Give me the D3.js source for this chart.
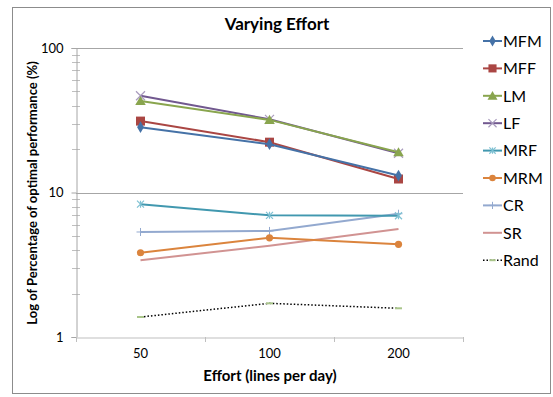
<!DOCTYPE html>
<html>
<head>
<meta charset="utf-8">
<title>Varying Effort</title>
<script src="https://d3js.org/d3.v7.min.js"></script>
<style>
  body { margin: 0; background: #fff; font-family: Lato, "Open Sans", sans-serif; }
  svg text { fill: #000; }
</style>
</head>
<body>
<div class="chart"></div>
<script>
// data
const efforts = ["50", "100", "200"];
const seriesNames = ["MFM", "MFF", "LM", "LF", "MRF", "MRM", "CR", "SR", "Rand"];
const MFM = [28.3, 21.6, 13.1];
const MFF = [31.2, 22.3, 12.4];
const LM = [43.0, 31.8, 19.0];
const LF = [46.7, 32.1, 18.7];
const MRF = [8.3, 6.95, 6.9];
const MRM = [3.83, 4.86, 4.38];
const CR = [5.33, 5.42, 7.13];
const SR = [3.40, 4.28, 5.59];
const Rand = [1.375, 1.71, 1.58];
const yTickLabels = [1, 10, 100];

const values = { MFM, MFF, LM, LF, MRF, MRM, CR, SR, Rand };
const colors = {
  MFM: "#4572A7", MFF: "#AA4643", LM: "#89A54E", LF: "#71588F", MRF: "#4198AF",
  MRM: "#DB843D", CR: "#93A9CF", SR: "#D19392", Rand: "#000000"
};
const markers = {
  MFM: "diamond", MFF: "square", LM: "triangle", LF: "x", MRF: "asterisk",
  MRM: "circle", CR: "plus", SR: "none", Rand: "dash"
};

const width = 553, height = 397;
const svg = d3.select(".chart").append("svg")
  .attr("width", width).attr("height", height);

// outer frame
svg.append("rect")
  .attr("x", 12.5).attr("y", 7.5).attr("width", 538).attr("height", 386)
  .attr("fill", "none").attr("stroke", "#8c8c8c").attr("stroke-width", 1);

const plotLeft = 76, plotRight = 463, plotTop = 48, plotBottom = 337;

const x = d3.scaleBand().domain(efforts).range([plotLeft, plotRight]);
const y = d3.scaleLog().domain([1, 100]).range([plotBottom, plotTop]);
const cx = d => x(d) + x.bandwidth() / 2;

// gridlines at 10 and 100
svg.selectAll("line.grid")
  .data([10, 100])
  .enter().append("line")
  .attr("class", "grid")
  .attr("x1", plotLeft).attr("x2", plotRight)
  .attr("y1", d => Math.round(y(d)) + 0.5).attr("y2", d => Math.round(y(d)) + 0.5)
  .attr("stroke", "#a6a6a6");

// minor ticks on the log axis
const minor = [];
[1, 10].forEach(base => { for (let k = 2; k <= 9; k++) minor.push(base * k); });
svg.selectAll("line.minor")
  .data(minor)
  .enter().append("line")
  .attr("x1", plotLeft - 4).attr("x2", plotLeft + 4)
  .attr("y1", d => Math.round(y(d)) + 0.5).attr("y2", d => Math.round(y(d)) + 0.5)
  .attr("stroke", "#bfbfbf");

// y axis
const yAxis = svg.append("g")
  .attr("transform", `translate(${plotLeft + 0.5},0)`)
  .call(d3.axisLeft(y).tickValues(yTickLabels).tickFormat(d3.format("d")).tickSize(5).tickPadding(8));
yAxis.select(".domain").attr("stroke", "#a6a6a6");
yAxis.selectAll(".tick line").attr("stroke", "#a6a6a6");
yAxis.selectAll("text").attr("font-size", 13).attr("font-family", "Lato, sans-serif").attr("fill", "#000");

// x axis
const xAxis = svg.append("g")
  .attr("transform", `translate(0,${Math.round(plotBottom) + 0.5})`)
  .call(d3.axisBottom(x).tickSize(0).tickPadding(11));
xAxis.select(".domain").attr("stroke", "#bfbfbf");
xAxis.selectAll("text").attr("font-size", 13).attr("font-family", "Lato, sans-serif").attr("fill", "#000");
const bounds = efforts.map(d => x(d)).concat([plotRight]);
svg.selectAll("line.xtick")
  .data(bounds)
  .enter().append("line")
  .attr("x1", d => Math.round(d) + 0.5).attr("x2", d => Math.round(d) + 0.5)
  .attr("y1", plotBottom).attr("y2", plotBottom + 5)
  .attr("stroke", "#bfbfbf");

// title and axis titles
svg.append("text")
  .attr("x", 277).attr("y", 30)
  .attr("text-anchor", "middle").attr("font-weight", "bold").attr("font-size", 17)
  .text("Varying Effort");
svg.append("text")
  .attr("x", 270).attr("y", 381)
  .attr("text-anchor", "middle").attr("font-weight", "bold").attr("font-size", 15)
  .text("Effort (lines per day)");
svg.append("text")
  .attr("transform", "translate(37,193) rotate(-90)")
  .attr("text-anchor", "middle").attr("font-weight", "bold").attr("font-size", 13)
  .text("Log of Percentage of optimal performance (%)");

// marker drawing
function drawMarker(g, type, color, px, py, scale) {
  const s = scale || 1;
  if (type === "diamond") {
    g.append("path").attr("d", d3.symbol(d3.symbolDiamond, 40 * s)())
      .attr("transform", `translate(${px},${py})`).attr("fill", color);
  } else if (type === "square") {
    const w = 9 * s;
    g.append("rect").attr("x", px - w / 2).attr("y", py - w / 2).attr("width", w).attr("height", w)
      .attr("fill", color);
  } else if (type === "triangle") {
    g.append("path").attr("d", d3.symbol(d3.symbolTriangle, 48 * s)())
      .attr("transform", `translate(${px},${py + 1})`).attr("fill", color);
  } else if (type === "x") {
    const r = 4.5 * s;
    g.append("path").attr("d", `M${px - r},${py - r}L${px + r},${py + r}M${px - r},${py + r}L${px + r},${py - r}`)
      .attr("stroke", "#a99bbd").attr("stroke-width", 1.2).attr("fill", "none");
  } else if (type === "asterisk") {
    const r = 3.5 * s;
    g.append("path").attr("d", `M${px - r},${py - r}L${px + r},${py + r}M${px - r},${py + r}L${px + r},${py - r}M${px},${py - r}L${px},${py + r}`)
      .attr("stroke", "#7fc1d3").attr("stroke-width", 1.2).attr("fill", "none");
  } else if (type === "circle") {
    g.append("circle").attr("cx", px).attr("cy", py).attr("r", 3.6 * s).attr("fill", color);
  } else if (type === "plus") {
    const r = 4 * s;
    g.append("path").attr("d", `M${px - r},${py}L${px + r},${py}M${px},${py - r}L${px},${py + r}`)
      .attr("stroke", color).attr("stroke-width", 1).attr("fill", "none");
  } else if (type === "dash") {
    g.append("line").attr("x1", px - 3.5 * s).attr("x2", px + 3.5 * s).attr("y1", py).attr("y2", py)
      .attr("stroke", "#a9c58a").attr("stroke-width", 2);
  }
}

const line = d3.line().x((d, i) => cx(efforts[i])).y(d => y(d));

// draw series, last first so MFM etc end up on top
const plot = svg.append("g");
seriesNames.slice().reverse().forEach(name => {
  const g = plot.append("g");
  g.append("path")
    .datum(values[name])
    .attr("d", line)
    .attr("fill", "none")
    .attr("stroke", colors[name])
    .attr("stroke-width", name === "Rand" ? 1.5 : 2)
    .attr("stroke-dasharray", name === "Rand" ? "1.5,2" : null);
  values[name].forEach((v, i) => drawMarker(g, markers[name], colors[name], cx(efforts[i]), y(v)));
});

// legend
const legend = svg.append("g");
seriesNames.forEach((name, i) => {
  const ly = 41 + i * 27.4;
  const g = legend.append("g");
  g.append("line")
    .attr("x1", 483).attr("x2", 502).attr("y1", ly).attr("y2", ly)
    .attr("stroke", colors[name])
    .attr("stroke-width", name === "Rand" ? 1.5 : 2)
    .attr("stroke-dasharray", name === "Rand" ? "1.5,2" : null);
  drawMarker(g, markers[name], colors[name], 492.5, ly, 0.9);
  g.append("text")
    .attr("x", 503).attr("y", ly).attr("dy", "0.36em")
    .attr("font-size", 16)
    .text(name);
});
</script>
</body>
</html>
